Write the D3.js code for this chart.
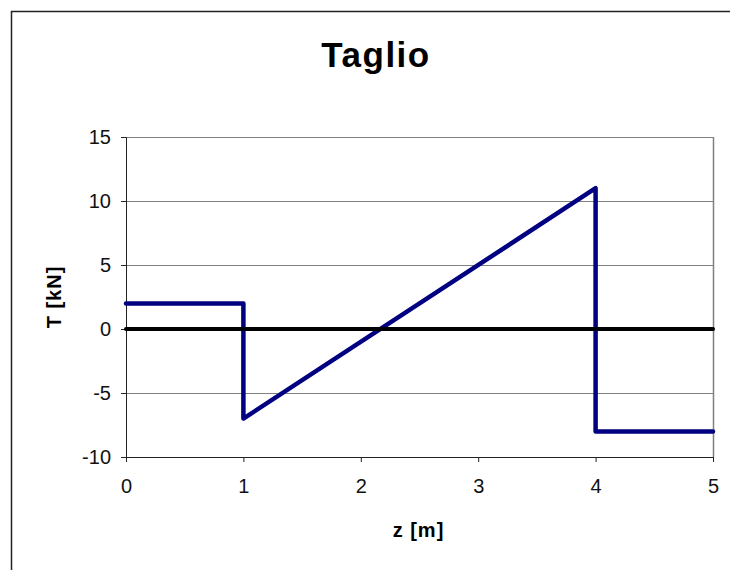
<!DOCTYPE html>
<html>
<head>
<meta charset="utf-8">
<script src="https://cdn.jsdelivr.net/npm/d3@7"></script>
<style>
  body { margin: 0; background: #fff; }
  svg { display: block; }
</style>
</head>
<body>
<div id="chart"></div>
<script>
// shear diagram values
const zValues = [0, 1, 1, 4, 4, 5];
const tValues = [2, 2, -7, 11, -8, -8];
const zeroZ = [0, 5];
const zeroT = [0, 0];
const xTicks = [0, 1, 2, 3, 4, 5];
const yTicks = [-10, -5, 0, 5, 10, 15];

function drawChart() {
    const W = 730, H = 570;
    const margin = {top: 137, right: 17, bottom: 113, left: 126};
    const width = W - margin.left - margin.right,
        height = H - margin.top - margin.bottom;
    const font = "Arial, 'Liberation Sans', sans-serif";

    const svg = d3.select("#chart")
        .append("svg")
            .attr("width", W)
            .attr("height", H);

    // outer chart frame (runs off the right and bottom edge)
    svg.append("rect")
        .attr("x", 11.5)
        .attr("y", 11.5)
        .attr("width", W + 20)
        .attr("height", H + 20)
        .attr("fill", "none")
        .attr("stroke", "#222")
        .attr("stroke-width", 1.5);

    svg.append("text")
        .attr("x", 376)
        .attr("y", 67)
        .attr("text-anchor", "middle")
        .style("font-family", font)
        .style("font-size", "35px")
        .style("font-weight", 700)
        .style("letter-spacing", "1.5px")
        .text("Taglio");

    const g = svg.append("g")
        .attr("transform", "translate(" + margin.left + "," + margin.top + ")");

    const x = d3.scaleLinear()
        .domain([0, 5])
        .range([0, width]);

    const y = d3.scaleLinear()
        .domain([-10, 15])
        .range([height, 0]);

    // gridlines
    g.selectAll(".grid")
        .data(yTicks.filter(d => d > -10))
        .join("line")
            .attr("class", "grid")
            .attr("x1", 0)
            .attr("x2", width)
            .attr("y1", d => Math.round(y(d)) + 0.5)
            .attr("y2", d => Math.round(y(d)) + 0.5)
            .style("stroke", "#808080");

    // right plot border
    g.append("line")
        .attr("x1", width + 0.5)
        .attr("x2", width + 0.5)
        .attr("y1", 0)
        .attr("y2", height)
        .style("stroke", "#808080")
        .style("stroke-width", 1.5);

    const yAxis = g.append("g")
        .call(d3.axisLeft(y).tickValues(yTicks).tickFormat(d => String(d))
            .tickSize(5).tickPadding(10));

    const xAxis = g.append("g")
        .attr("transform", "translate(0," + height + ")")
        .call(d3.axisBottom(x).tickValues(xTicks).tickFormat(d => String(d))
            .tickSize(5).tickPadding(17));

    [xAxis, yAxis].forEach(a => {
        a.select(".domain").style("stroke", "#222");
        a.selectAll(".tick line").style("stroke", "#222");
        a.selectAll(".tick text")
            .style("font-family", font)
            .style("font-size", "20px")
            .style("fill", "#111");
    });

    const line = d3.line()
        .x(i => x(i[0]))
        .y(i => y(i[1]));

    g.append("path")
        .datum(zValues.map((z, i) => [z, tValues[i]]))
        .attr("d", line)
        .attr("fill", "none")
        .attr("stroke", "#000080")
        .attr("stroke-width", 4.5)
        .attr("stroke-linejoin", "round")
        .attr("stroke-linecap", "round");

    g.append("path")
        .datum(zeroZ.map((z, i) => [z, zeroT[i]]))
        .attr("d", line)
        .attr("fill", "none")
        .attr("stroke", "#000")
        .attr("stroke-width", 4)
        .attr("stroke-linecap", "round");

    svg.append("text")
        .attr("transform", "translate(61," + (margin.top + height / 2) + ") rotate(-90)")
        .attr("text-anchor", "middle")
        .style("font-family", font)
        .style("font-size", "20px")
        .style("font-weight", 700)
        .style("letter-spacing", "1px")
        .text("T [kN]");

    svg.append("text")
        .attr("x", margin.left + width / 2 - 1)
        .attr("y", 537)
        .attr("text-anchor", "middle")
        .style("font-family", font)
        .style("font-size", "20px")
        .style("font-weight", 700)
        .style("letter-spacing", "1px")
        .text("z [m]");
}

drawChart();
</script>
</body>
</html>
